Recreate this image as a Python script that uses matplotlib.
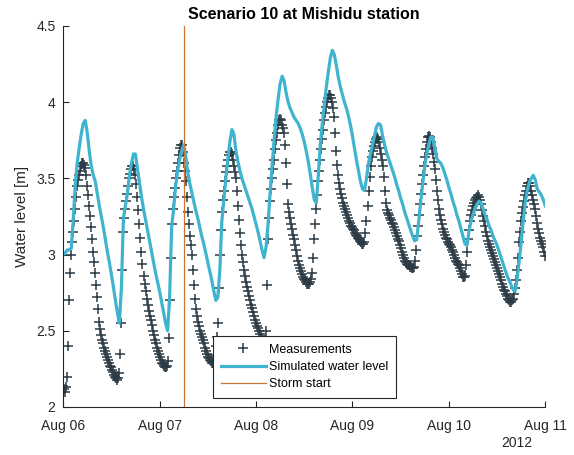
import pandas as pd
import matplotlib
matplotlib.use('Agg')
import matplotlib.pyplot as plt
import matplotlib.dates as mdates
from matplotlib.ticker import FuncFormatter

plt.rcParams['font.family'] = ['Liberation Sans', 'DejaVu Sans']

# Measured water level, every 15 min from 2012-08-06 00:00 (one list per day)
meas_day1 = [2.14, 2.12, 2.10, 2.13, 2.20, 2.40, 2.70, 2.88, 3.00, 3.08, 3.15, 3.22, 3.30, 3.38, 3.45, 3.49,
             3.52, 3.55, 3.58, 3.60, 3.60, 3.59, 3.57, 3.52, 3.45, 3.39, 3.32, 3.25, 3.18, 3.10, 3.02, 2.95,
             2.88, 2.80, 2.72, 2.64, 2.56, 2.51, 2.47, 2.44, 2.42, 2.39, 2.37, 2.35, 2.33, 2.31, 2.29, 2.27,
             2.26, 2.24, 2.23, 2.21, 2.20, 2.19, 2.18, 2.19, 2.22, 2.35, 2.55, 2.90, 3.15, 3.24, 3.30, 3.35,
             3.40, 3.45, 3.50, 3.53, 3.56, 3.58, 3.58, 3.56, 3.52, 3.46, 3.38, 3.29, 3.20, 3.11, 3.02, 2.94,
             2.86, 2.81, 2.76, 2.71, 2.67, 2.63, 2.60, 2.57, 2.54, 2.50, 2.47, 2.44, 2.42, 2.39, 2.37, 2.35]
meas_day2 = [2.33, 2.31, 2.29, 2.28, 2.27, 2.26, 2.26, 2.27, 2.30, 2.45, 2.70, 2.98, 3.20, 3.30, 3.38, 3.44,
             3.50, 3.55, 3.60, 3.65, 3.70, 3.72, 3.72, 3.67, 3.60, 3.55, 3.48, 3.38, 3.28, 3.20, 3.12, 3.06,
             3.00, 2.90, 2.80, 2.71, 2.64, 2.60, 2.56, 2.53, 2.50, 2.48, 2.46, 2.44, 2.42, 2.39, 2.37, 2.35,
             2.33, 2.32, 2.31, 2.30, 2.29, 2.29, 2.30, 2.34, 2.40, 2.46, 2.55, 2.78, 3.00, 3.16, 3.28, 3.36,
             3.42, 3.48, 3.54, 3.58, 3.62, 3.65, 3.67, 3.67, 3.66, 3.62, 3.58, 3.54, 3.50, 3.42, 3.32, 3.23,
             3.14, 3.06, 3.00, 2.95, 2.90, 2.86, 2.82, 2.79, 2.76, 2.73, 2.70, 2.67, 2.65, 2.62, 2.60, 2.57]
meas_day3 = [2.55, 2.53, 2.52, 2.50, 2.48, 2.46, 2.45, 2.44, 2.43, 2.44, 2.50, 2.80, 3.10, 3.24, 3.35, 3.43,
             3.50, 3.56, 3.62, 3.69, 3.75, 3.80, 3.85, 3.88, 3.89, 3.88, 3.85, 3.83, 3.80, 3.72, 3.60, 3.46,
             3.33, 3.28, 3.24, 3.20, 3.17, 3.13, 3.10, 3.06, 3.03, 2.99, 2.96, 2.93, 2.91, 2.89, 2.87, 2.85,
             2.84, 2.83, 2.82, 2.81, 2.81, 2.81, 2.82, 2.84, 2.88, 2.98, 3.10, 3.20, 3.30, 3.39, 3.48, 3.55,
             3.62, 3.69, 3.76, 3.82, 3.88, 3.93, 3.97, 4.00, 4.03, 4.05, 4.05, 4.03, 4.00, 3.96, 3.90, 3.80,
             3.68, 3.59, 3.52, 3.47, 3.43, 3.40, 3.37, 3.34, 3.32, 3.30, 3.28, 3.26, 3.24, 3.22, 3.21, 3.19]
meas_day4 = [3.18, 3.17, 3.16, 3.14, 3.13, 3.12, 3.11, 3.10, 3.09, 3.08, 3.07, 3.07, 3.08, 3.14, 3.22, 3.32,
             3.42, 3.51, 3.58, 3.64, 3.68, 3.71, 3.74, 3.76, 3.77, 3.76, 3.74, 3.70, 3.66, 3.62, 3.58, 3.51,
             3.42, 3.34, 3.29, 3.27, 3.26, 3.24, 3.23, 3.21, 3.20, 3.18, 3.16, 3.14, 3.12, 3.10, 3.09, 3.06,
             3.04, 3.02, 3.00, 2.98, 2.96, 2.95, 2.94, 2.93, 2.93, 2.92, 2.92, 2.91, 2.91, 2.92, 2.96, 3.03,
             3.12, 3.19, 3.26, 3.33, 3.40, 3.46, 3.52, 3.58, 3.64, 3.69, 3.74, 3.77, 3.78, 3.77, 3.74, 3.70,
             3.66, 3.61, 3.56, 3.49, 3.42, 3.36, 3.30, 3.26, 3.23, 3.20, 3.17, 3.15, 3.13, 3.11, 3.10, 3.08]
meas_day5 = [3.07, 3.06, 3.05, 3.03, 3.02, 3.00, 2.98, 2.96, 2.95, 2.94, 2.93, 2.91, 2.89, 2.87, 2.85, 2.85,
             2.86, 2.93, 3.02, 3.10, 3.16, 3.22, 3.26, 3.29, 3.32, 3.34, 3.36, 3.37, 3.38, 3.39, 3.38, 3.36,
             3.33, 3.29, 3.25, 3.22, 3.19, 3.15, 3.12, 3.09, 3.07, 3.05, 3.03, 3.01, 2.99, 2.97, 2.95, 2.93,
             2.91, 2.89, 2.87, 2.85, 2.83, 2.81, 2.79, 2.77, 2.76, 2.74, 2.73, 2.71, 2.70, 2.69, 2.69, 2.70,
             2.71, 2.74, 2.78, 2.83, 2.90, 2.98, 3.08, 3.15, 3.22, 3.27, 3.31, 3.35, 3.39, 3.42, 3.45, 3.47,
             3.47, 3.45, 3.42, 3.39, 3.36, 3.33, 3.30, 3.25, 3.21, 3.17, 3.14, 3.11, 3.09, 3.07, 3.05, 3.02,
             2.99]
measured = meas_day1 + meas_day2 + meas_day3 + meas_day4 + meas_day5

# Simulated water level, every 30 min from 2012-08-06 00:00
simulated = [3.00, 3.01, 3.03, 3.03, 3.04, 3.22, 3.45, 3.60, 3.70, 3.79, 3.86, 3.88,
             3.80, 3.68, 3.58, 3.52, 3.48, 3.40, 3.32, 3.25, 3.18, 3.10, 3.02, 2.95,
             2.87, 2.79, 2.70, 2.62, 2.55, 2.78, 3.24, 3.32, 3.40, 3.52, 3.60, 3.66,
             3.66, 3.56, 3.47, 3.38, 3.30, 3.23, 3.16, 3.09, 3.02, 2.95, 2.88, 2.82,
             2.76, 2.69, 2.62, 2.55, 2.50, 2.72, 3.18, 3.30, 3.45, 3.55, 3.62, 3.68,
             3.72, 3.65, 3.54, 3.47, 3.41, 3.35, 3.29, 3.24, 3.18, 3.12, 3.07, 3.01,
             2.95, 2.89, 2.83, 2.76, 2.70, 2.72, 2.90, 3.22, 3.36, 3.50, 3.63, 3.74,
             3.82, 3.79, 3.68, 3.61, 3.55, 3.50, 3.46, 3.42, 3.38, 3.34, 3.30, 3.25,
             3.20, 3.15, 3.09, 3.03, 2.98, 3.05, 3.20, 3.40, 3.58, 3.75, 3.90, 4.02,
             4.12, 4.17, 4.14, 4.06, 4.00, 3.96, 3.93, 3.90, 3.88, 3.86, 3.83, 3.79,
             3.74, 3.68, 3.61, 3.53, 3.44, 3.36, 3.34, 3.52, 3.72, 3.86, 3.98, 4.10,
             4.20, 4.29, 4.34, 4.31, 4.24, 4.16, 4.10, 4.05, 4.00, 3.96, 3.91, 3.85,
             3.78, 3.70, 3.62, 3.55, 3.48, 3.43, 3.42, 3.50, 3.60, 3.66, 3.72, 3.78,
             3.84, 3.86, 3.85, 3.78, 3.72, 3.67, 3.63, 3.59, 3.55, 3.51, 3.46, 3.42,
             3.37, 3.33, 3.28, 3.24, 3.20, 3.16, 3.12, 3.09, 3.10, 3.22, 3.35, 3.47,
             3.58, 3.66, 3.72, 3.77, 3.77, 3.70, 3.63, 3.61, 3.60, 3.57, 3.53, 3.49,
             3.44, 3.40, 3.35, 3.31, 3.26, 3.22, 3.17, 3.12, 3.07, 3.06, 3.15, 3.22,
             3.26, 3.30, 3.33, 3.35, 3.34, 3.30, 3.26, 3.23, 3.19, 3.16, 3.12, 3.09,
             3.06, 3.02, 2.98, 2.94, 2.90, 2.86, 2.83, 2.80, 2.77, 2.76, 2.84, 2.96,
             3.08, 3.22, 3.34, 3.42, 3.47, 3.50, 3.52, 3.49, 3.43, 3.41, 3.39, 3.36,
             3.32]

storm_start = '2012-08-07 06:00'

meas_time = pd.date_range('2012-08-06', periods=len(measured), freq='15min')
sim_time = pd.date_range('2012-08-06', periods=len(simulated), freq='30min')

fig = plt.figure(figsize=(5.74, 4.55), dpi=100)
ax = fig.add_axes([0.110, 0.1055, 0.840, 0.8375])

ax.plot(meas_time, measured, '+', color='#2b3a45', markersize=6.5, markeredgewidth=1.1,
        label='Measurements')
ax.plot(sim_time, simulated, '-', color='#3fb4cf', linewidth=2.3,
        label='Simulated water level')
ax.axvline(pd.Timestamp(storm_start), color='#cc7336', linewidth=0.9, label='Storm start')

ax.set_xlim(pd.Timestamp('2012-08-06'), pd.Timestamp('2012-08-11'))
ax.set_ylim(2, 4.5)
ax.set_yticks([2, 2.5, 3, 3.5, 4, 4.5])
ax.yaxis.set_major_formatter(FuncFormatter(lambda v, p: '%g' % v))
ax.xaxis.set_major_locator(mdates.DayLocator())
ax.xaxis.set_major_formatter(mdates.DateFormatter('%b %d'))

for s in ['top', 'right']:
    ax.spines[s].set_visible(False)
for s in ['left', 'bottom']:
    ax.spines[s].set_color('#262626')
    ax.spines[s].set_linewidth(0.8)
ax.tick_params(direction='in', length=4, width=0.8, colors='#262626', labelsize=10)
ax.tick_params(axis='x', pad=9)
ax.tick_params(axis='y', pad=5.5)

ax.set_title('Scenario 10 at Mishidu station', fontsize=11.5, fontweight='bold', pad=5)
ax.set_ylabel('Water level [m]', fontsize=11, color='#262626', labelpad=5)
ax.text(0.94, -0.0945, '2012', transform=ax.transAxes, ha='center', va='center',
        fontsize=10, color='#262626')

leg = ax.legend(loc='lower left', bbox_to_anchor=(0.311, 0.024), fontsize=9,
                fancybox=False, framealpha=1, edgecolor='#262626',
                borderpad=0.6, labelspacing=0.42, handlelength=3.6,
                handletextpad=0.3, borderaxespad=0)
leg.get_frame().set_linewidth(0.8)

fig.savefig('out.png', dpi=100)
